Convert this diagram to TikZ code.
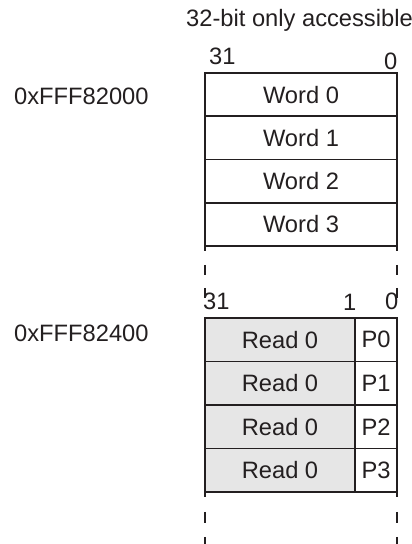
\documentclass[tikz,border=0pt]{standalone}
\usepackage{fontspec}
\setmainfont{Liberation Sans}
\definecolor{cellgrey}{RGB}{230,230,230}
\definecolor{ink}{RGB}{35,31,32}
\begin{document}
\begin{tikzpicture}[x=1pt,y=1pt,
  every node/.style={font=\fontsize{23.7}{28}\selectfont, text=ink},
  cell/.style={draw=ink, line width=1.8pt, inner sep=0pt, outer sep=0pt},
  wordcell/.style={cell, minimum width=192pt, minimum height=43.25pt},
  readcell/.style={cell, fill=cellgrey, minimum width=150pt, minimum height=43.5pt},
  pcell/.style={cell, fill=white, minimum width=42pt, minimum height=43.5pt},
  lbl/.style={anchor=base west, inner sep=0pt},
  edge/.style={draw=ink, line width=1.8pt}
]
\useasboundingbox (0,0) rectangle (412,544);
\clip (0,0) rectangle (412,544);

% title
\node[lbl] (title) at (186,517) {32-bit only accessible};

% top bit labels
\node[lbl] (t31) at (209,479) {31};
\node[lbl] (t0) at (384,474) {0};

% address labels
\node[lbl] (a1) at (14,439) {0xFFF82000};
\node[lbl] (a2) at (14,202) {0xFFF82400};

% top box
\node[wordcell] (w0) at (301,449.375) {Word 0};
\node[wordcell] (w1) at (301,406.125) {Word 1};
\node[wordcell] (w2) at (301,362.875) {Word 2};
\node[wordcell] (w3) at (301,319.625) {Word 3};

% dashed continuation top box
\draw[edge, dash pattern=on 5pt off 14pt on 10pt off 13pt on 10pt off 40pt] (w3.south west) -- ++(0,-52);
\draw[edge, dash pattern=on 5pt off 14pt on 10pt off 13pt on 10pt off 40pt] (w3.south east) -- ++(0,-52);

% bottom bit labels
\node[lbl] (b31) at (203,234) {31};
\node[lbl] (b1) at (343,233) {1};
\node[lbl] (b0) at (385,234) {0};

% bottom box
\node[readcell] (r0) at (280,204.25) {Read 0};
\node[pcell] (p0) at (376,204.25) {P0};
\node[readcell] (r1) at (280,160.75) {Read 0};
\node[pcell] (p1) at (376,160.75) {P1};
\node[readcell] (r2) at (280,117.25) {Read 0};
\node[pcell] (p2) at (376,117.25) {P2};
\node[readcell] (r3) at (280,73.75) {Read 0};
\node[pcell] (p3) at (376,73.75) {P3};

% dashed continuation bottom box
\draw[edge, dash pattern=on 5pt off 15pt on 11pt off 14pt on 11pt off 20pt] (r3.south west) -- ++(0,-52);
\draw[edge, dash pattern=on 5pt off 15pt on 11pt off 14pt on 11pt off 20pt] (p3.south east) -- ++(0,-52);
\end{tikzpicture}
\end{document}
